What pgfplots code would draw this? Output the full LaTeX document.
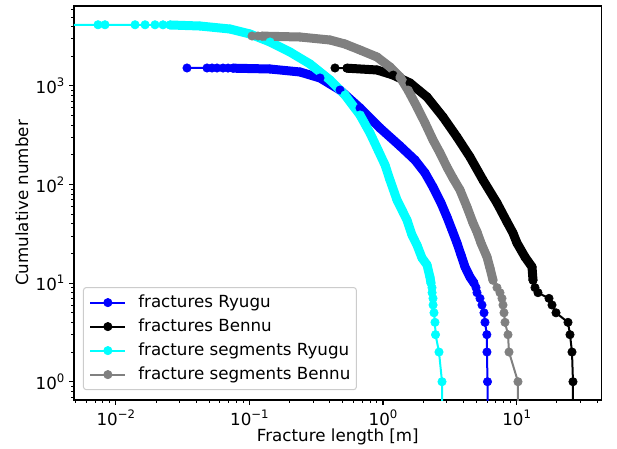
\documentclass[border=0pt]{standalone}
\usepackage{fontspec}
\setmainfont{DejaVu Sans}
\usepackage{pgfplots}
\pgfplotsset{compat=1.18}
\newcommand{\mpl}{\fontsize{16.7}{20}\selectfont}
\newcommand{\dec}[1]{10\raisebox{0.42em}{\fontsize{11.7}{12}\selectfont #1}}
\definecolor{mplblue}{HTML}{0000FF}
\definecolor{mplcyan}{HTML}{00FFFF}
\definecolor{mplgray}{HTML}{808080}
\definecolor{legframe}{HTML}{CCCCCC}

\begin{document}
\begin{tikzpicture}
\begin{axis}[
    scale only axis,
    width=527.7pt, height=394pt,
    xmode=log, ymode=log,
    xmin=0.004864, xmax=43.35,
    ymin=0.6524, ymax=6463,
    xtick={0.01,0.1,1,10},
    xticklabels={\dec{−2},\dec{−1},\dec{0},\dec{1}},
    ytick={1,10,100,1000},
    yticklabels={\dec{0},\dec{1},\dec{2},\dec{3}},
    minor xtick={0.005,0.006,0.007,0.008,0.009,0.02,0.03,0.04,0.05,0.06,0.07,0.08,0.09,
                 0.2,0.3,0.4,0.5,0.6,0.7,0.8,0.9,2,3,4,5,6,7,8,9,20,30,40},
    minor ytick={0.7,0.8,0.9,2,3,4,5,6,7,8,9,20,30,40,50,60,70,80,90,
                 200,300,400,500,600,700,800,900,2000,3000,4000,5000,6000},
    tick pos=left, tick align=outside,
    major tick length=4.86pt, minor tick length=2.78pt,
    every major tick/.append style={black, line width=1.1pt},
    every minor tick/.append style={black, line width=0.83pt},
    axis line style={black, line width=1.1pt},
    tick label style={font=\mpl, text=black, inner sep=4.6pt},
    label style={font=\mpl},
    xlabel={Fracture length [m]},
    ylabel={Cumulative number},
    xlabel style={at={(axis description cs:0.5,-0.094)}, anchor=center},
    ylabel style={at={(axis description cs:-0.0985,0.5)}, anchor=center},
    legend style={at={(0.017,0.025)}, anchor=south west, font=\mpl,
        draw=legframe, line width=1pt, rounded corners=2.8pt, fill=white,
        inner xsep=6pt, inner ysep=7pt, row sep=7.9pt, column sep=12pt,
        nodes={inner sep=0pt, text height=12.5pt, text depth=3.6pt}},
    legend cell align=left,
    legend image code/.code={
        \draw[mark repeat=2,mark phase=2] plot coordinates {(0pt,0pt) (17.4pt,0pt) (34.8pt,0pt)};},
    every axis plot/.append style={mark size=4.2pt, mark options={line width=0.6pt}},
]
% fractures Ryugu
\addplot[mplblue, line width=9pt, line cap=round, line join=round, forget plot] coordinates {
(0.07538,1513) (0.1426,1484) (0.2392,1384) (0.3377,1203) (0.4767,908) (0.6728,597)
(0.9495,374) (1.340,246) (1.736,177) (2.063,131) (2.367,94.3) (2.718,64.9) (3.013,46.8)
(3.285,34.6) (3.580,25.5) (3.836,19.3) (4.110,14.6) (4.480,11.5) (4.799,10)};
\addplot[mplblue, line width=2pt, mark=*] coordinates {
(0.03411,1520) (0.04815,1520) (0.05251,1519) (0.05722,1519) (0.06344,1518) (0.06916,1517)
(0.07538,1513) (0.1426,1484) (0.2392,1384) (0.3377,1203) (0.4767,908) (0.6728,597)
(0.9495,374) (1.340,246) (1.736,177) (2.063,131) (2.367,94.3) (2.718,64.9) (3.013,46.8)
(3.285,34.6) (3.580,25.5) (3.836,19.3) (4.110,14.6) (4.480,11.5) (4.799,10) (4.968,9)
(5.054,8) (5.321,7) (5.508,6) (5.702,5) (5.801,4) (5.99,3) (6.00,2) (6.056,1) (6.056,0.01)};
\addlegendentry{fractures Ryugu}
% fractures Bennu
\addplot[black, line width=9pt, line cap=round, line join=round, forget plot] coordinates {
(0.5377,1513) (0.9018,1450) (1.188,1290) (1.593,1070) (2.135,772) (2.813,484) (3.580,303)
(4.480,190) (5.604,111) (7.135,64.9) (8.477,41.7) (9.399,32.2) (10.07,25.5) (11.56,18.4)
(13.04,14.6) (13.27,10.7)};
\addplot[black, line width=2pt, mark=*] coordinates {
(0.4372,1520) (0.5377,1513) (0.9018,1450) (1.188,1290) (1.593,1070) (2.135,772) (2.813,484)
(3.580,303) (4.480,190) (5.604,111) (7.135,64.9) (8.477,41.7) (9.399,32.2) (10.07,25.5)
(11.56,18.4) (13.04,14.6) (13.27,10.7) (13.73,9) (14.46,8) (17.48,7) (18.41,6) (19.72,5)
(24.25,4) (25.10,3) (25.98,2) (26.43,1) (26.43,0.01)};
\addlegendentry{fractures Bennu}
% fracture segments Ryugu
\addplot[mplcyan, line width=9pt, line cap=round, line join=round, forget plot] coordinates {
(0.02546,4150) (0.04266,4050) (0.0716,3776) (0.1010,3361) (0.1426,2788) (0.2013,2207)
(0.2842,1668) (0.4012,1148) (0.5195,808) (0.6728,507) (0.7994,333) (0.9176,224) (1.035,158)
(1.128,111) (1.273,69.6) (1.411,52.6) (1.512,43.6) (1.649,30.7) (1.797,24.3) (1.958,18)
(2.135,15.3) (2.247,11.5) (2.287,10)};
\addplot[mplcyan, line width=2pt, mark=*] coordinates {
(0.004,4170) (0.00736,4170) (0.0083,4170) (0.01393,4169) (0.01656,4168) (0.01965,4167)
(0.02255,4165) (0.02546,4150) (0.04266,4050) (0.0716,3776) (0.1010,3361) (0.1426,2788)
(0.2013,2207) (0.2842,1668) (0.4012,1148) (0.5195,808) (0.6728,507) (0.7994,333)
(0.9176,224) (1.035,158) (1.128,111) (1.273,69.6) (1.411,52.6) (1.512,43.6) (1.649,30.7)
(1.797,24.3) (1.958,18) (2.135,15.3) (2.247,11.5) (2.287,10) (2.327,9) (2.33,8) (2.367,7)
(2.37,6) (2.408,5) (2.450,4) (2.472,3) (2.625,2) (2.765,1) (2.765,0.01)};
\addlegendentry{fracture segments Ryugu}
% fracture segments Bennu
\addplot[mplgray, line width=9pt, line cap=round, line join=round, forget plot] coordinates {
(0.1243,3200) (0.2392,3133) (0.4012,2921) (0.5195,2660) (0.6728,2313) (0.9018,1964)
(1.128,1555) (1.340,1231) (1.538,908) (1.797,611) (2.063,421) (2.367,283) (2.671,209)
(3.013,150) (3.342,116) (3.771,87.9) (4.253,59.1) (4.718,40.7) (5.054,33.0) (5.414,25.5)
(6.004,18.4) (6.322,14.2) (6.660,10.7)};
\addplot[mplgray, line width=2pt, mark=*] coordinates {
(0.1046,3207) (0.1160,3205) (0.1243,3200) (0.2392,3133) (0.4012,2921) (0.5195,2660)
(0.6728,2313) (0.9018,1964) (1.128,1555) (1.340,1231) (1.538,908) (1.797,611) (2.063,421)
(2.367,283) (2.671,209) (3.013,150) (3.342,116) (3.771,87.9) (4.253,59.1) (4.718,40.7)
(5.054,33.0) (5.414,25.5) (6.004,18.4) (6.322,14.2) (6.660,10.7) (7.135,9) (7.511,8)
(7.775,7) (7.911,6) (8.049,5) (8.189,4) (8.622,3) (8.772,2) (10.24,1) (10.24,0.01)};
\addlegendentry{fracture segments Bennu}
\end{axis}
\path ([xshift=-74pt,yshift=-48pt]current axis.south west)
      ([xshift=15.3pt,yshift=6pt]current axis.north east);
\end{tikzpicture}
\end{document}
